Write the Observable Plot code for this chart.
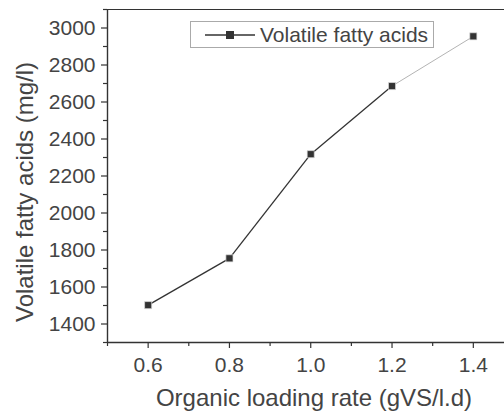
<!DOCTYPE html>
<html>
<head>
<meta charset="utf-8">
<script src="https://cdn.jsdelivr.net/npm/d3@7"></script>
<script src="https://cdn.jsdelivr.net/npm/@observablehq/plot@0.6"></script>
<style>
  html, body { margin: 0; padding: 0; background: #fff; }
  #wrap { position: relative; width: 504px; height: 412px; overflow: hidden; }
  #legend { position: absolute; left: 190px; top: 21px; width: 244px; height: 27px;
    border: 1px solid #aaa; box-sizing: border-box; background: #fff;
    font-family: "Liberation Sans", Arial, sans-serif; font-size: 21px; color: #444;
    display: flex; align-items: center; }
  #legend svg { margin-left: 14px; margin-right: 5px; }
</style>
</head>
<body>
<div id="wrap"></div>
<script>
const loadingRate = [0.6, 0.8, 1.0, 1.2, 1.4];
const vfa = [1502, 1755, 2318, 2686, 2955];
const xTicks = [0.6, 0.8, 1.0, 1.2, 1.4];
const xMinor = [0.5, 0.7, 0.9, 1.1, 1.3];
const yTicks = [1400, 1600, 1800, 2000, 2200, 2400, 2600, 2800, 3000];
const yMinor = [1300, 1500, 1700, 1900, 2100, 2300, 2500, 2700, 2900, 3100];
const seriesName = "Volatile fatty acids";
const xLabel = "Organic loading rate (gVS/l.d)";
const yLabel = "Volatile fatty acids (mg/l)";

const data = loadingRate.map((x, i) => ({x, y: vfa[i]}));
const segs = data.slice(0, -1).map((d, i) => ({x1: d.x, y1: d.y, x2: data[i + 1].x, y2: data[i + 1].y, last: i === data.length - 2}));

const font = "Liberation Sans, Arial, sans-serif";
const ink = "#333";
const txt = "#444";

const chart = Plot.plot({
  width: 504,
  height: 412,
  marginLeft: 107,
  marginTop: 9,
  marginBottom: 70,
  marginRight: 0,
  style: {fontFamily: font, fontSize: "21px", color: txt, background: "#fff"},
  x: {domain: [0.5, 1.4767]},
  y: {domain: [1300, 3100]},
  marks: [
    Plot.ruleY([3100], {stroke: ink, strokeWidth: 1.2}),
    Plot.ruleY([1300], {stroke: ink, strokeWidth: 1.4}),
    Plot.ruleX([0.5], {stroke: ink, strokeWidth: 1.4}),
    Plot.axisY({ticks: yTicks, tickSize: 6, tickPadding: 6, tickFormat: d => String(d), label: null, stroke: ink, fill: txt, strokeWidth: 1.2, fontSize: 21}),
    Plot.axisY({ticks: yMinor, tickSize: 4, tickFormat: () => "", label: null, stroke: ink, strokeWidth: 1.2}),
    Plot.axisX({ticks: xTicks, tickSize: 6, tickPadding: 9, tickFormat: d3.format(".1f"), label: null, stroke: ink, fill: txt, strokeWidth: 1.2, fontSize: 21}),
    Plot.axisX({ticks: xMinor, tickSize: 4, tickFormat: () => "", label: null, stroke: ink, strokeWidth: 1.2}),
    Plot.link(segs, {x1: "x1", y1: "y1", x2: "x2", y2: "y2",
      stroke: d => d.last ? "#aaa" : ink, strokeWidth: d => d.last ? 0.9 : 1.3}),
    Plot.dot(data, {x: "x", y: "y", symbol: "square", r: 4, fill: ink, stroke: "#ddd", strokeWidth: 0.7}),
    Plot.text([yLabel], {frameAnchor: "left", dx: -82, dy: 16, rotate: -90, text: d => d, fontSize: 24, fill: txt, lineAnchor: "middle", textAnchor: "middle"}),
    Plot.text([xLabel], {frameAnchor: "bottom", dx: 8, dy: 56, text: d => d, fontSize: 24, fill: txt, lineAnchor: "middle", textAnchor: "middle"})
  ]
});

const wrap = document.getElementById("wrap");
wrap.appendChild(chart);
const leg = document.createElement("div");
leg.id = "legend";
leg.innerHTML = `<svg width="50" height="12"><line x1="0" y1="6" x2="50" y2="6" stroke="${ink}" stroke-width="1.3"/><rect x="21" y="2" width="8" height="8" fill="${ink}"/></svg><span>${seriesName}</span>`;
wrap.appendChild(leg);
</script>
</body>
</html>
